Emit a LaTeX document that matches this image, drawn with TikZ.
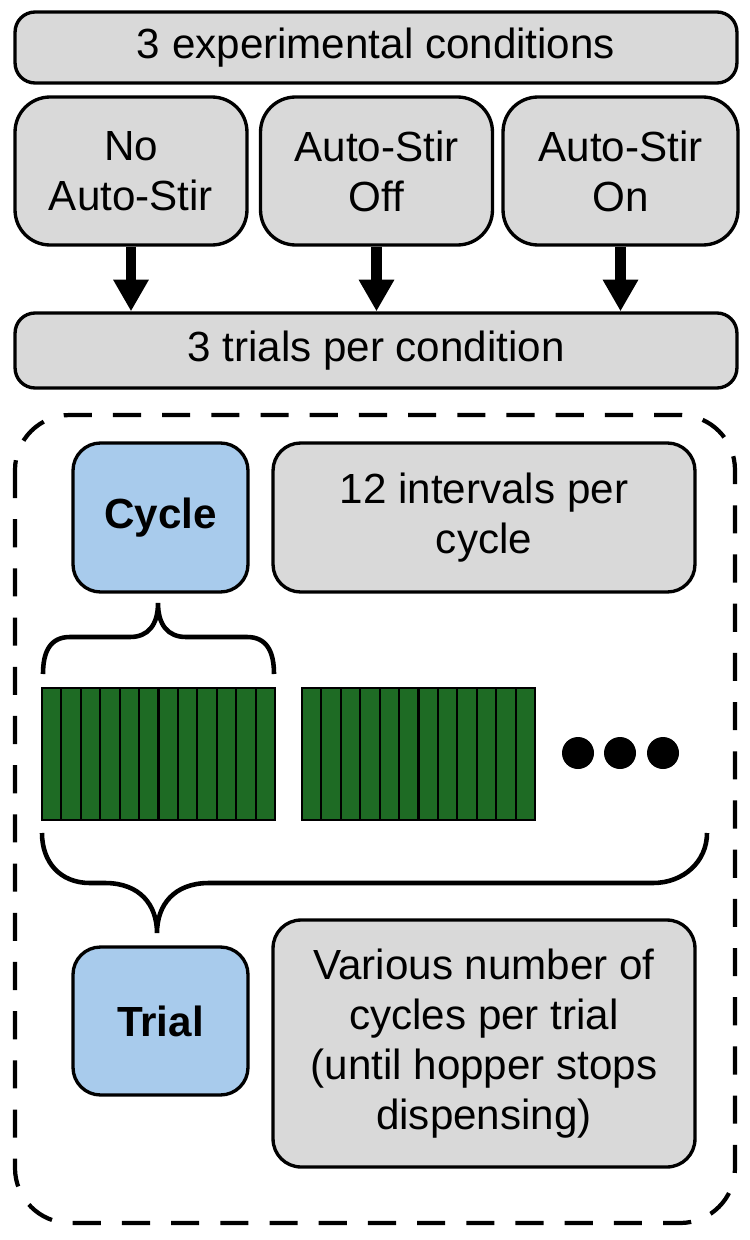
\documentclass[tikz,border=0pt]{standalone}
\usepackage{fontspec}
\setmainfont{Liberation Sans}
\usetikzlibrary{arrows.meta,positioning}
\definecolor{boxgray}{HTML}{D9D9D9}
\definecolor{cycblue}{HTML}{A8CBEC}
\definecolor{cellgreen}{HTML}{1E6B24}
\tikzset{
  gbox/.style={draw=black,line width=1.9pt,fill=boxgray,rounded corners=0.4cm,align=center,inner sep=0pt,font=\fontsize{24}{28.5}\selectfont},
  condbox/.style={gbox,rounded corners=0.7cm,minimum width=4.64cm,minimum height=2.96cm},
  bbox/.style={gbox,fill=cycblue,rounded corners=0.55cm,minimum width=3.5cm,minimum height=2.98cm,font=\fontsize{24}{28.5}\selectfont\bfseries},
  flow/.style={line width=6pt,-{Triangle[width=19pt,length=18pt]}},
  brace/.style={line width=2.6pt},
  cell/.style={draw=black,line width=1.2pt,fill=cellgreen},
  dashframe/.style={line width=2.4pt,dash pattern=on 16pt off 12pt,rounded corners=1.1cm}
}

\begin{document}
\begin{tikzpicture}[x=0.02cm,y=-0.02cm]
\useasboundingbox (0,0) rectangle (750,1240);
% conditions and trials
\node[gbox,minimum width=14.44cm,minimum height=1.42cm] (conds) at (376,47.5) {3 experimental conditions};
\node[condbox] (noauto) at (131,171) {No\\Auto-Stir};
\node[condbox] (stiroff) at (376.5,171) {Auto-Stir\\Off};
\node[condbox,minimum width=4.7cm] (stiron) at (620.5,171) {Auto-Stir\\On};
\node[gbox,minimum width=14.44cm,minimum height=1.5cm] (trials) at (376,350.5) {3 trials per condition};
\foreach \c in {noauto,stiroff,stiron}{\draw[flow] (\c.south) -- (\c.south |- trials.north);}

% one trial
\draw[dashframe] (15,415) rectangle (735,1223);
\node[bbox] (cycle) at (160.5,517.5) {Cycle};
\node[gbox,rounded corners=0.55cm,minimum width=8.44cm,minimum height=2.98cm] (intervals) at (484,517.5) {12 intervals per\\cycle};
\node[bbox,minimum height=2.96cm] (trial) at (160.5,1021) {Trial};
\node[gbox,rounded corners=0.56cm,minimum width=8.44cm,minimum height=4.94cm] (various) at (484,1043.5) {Various number of\\cycles per trial\\(until hopper stops\\dispensing)};

\foreach \bx in {42,302}{\foreach \k in {0,...,11}{\draw[cell] ({\bx+\k*19.42},688) rectangle ++(19.42,132);}}
\foreach \dx in {578,620,663}{\fill (\dx,753) circle[radius=0.32cm];}

\draw[brace] (43,674) .. controls (43,652) and (50,637) .. (70,637) -- (130,637) .. controls (148,637) and (158,625) .. (158,603)
  .. controls (158,625) and (168,637) .. (186,637) -- (247,637) .. controls (267,637) and (274,652) .. (274,674);
\draw[brace] (42,833) .. controls (42,862) and (60,883) .. (90,883) -- (105,883) .. controls (140,883) and (157,905) .. (157,933)
  .. controls (157,905) and (174,883) .. (209,883) -- (653,883) .. controls (683,883) and (707,862) .. (707,833);
\end{tikzpicture}
\end{document}
